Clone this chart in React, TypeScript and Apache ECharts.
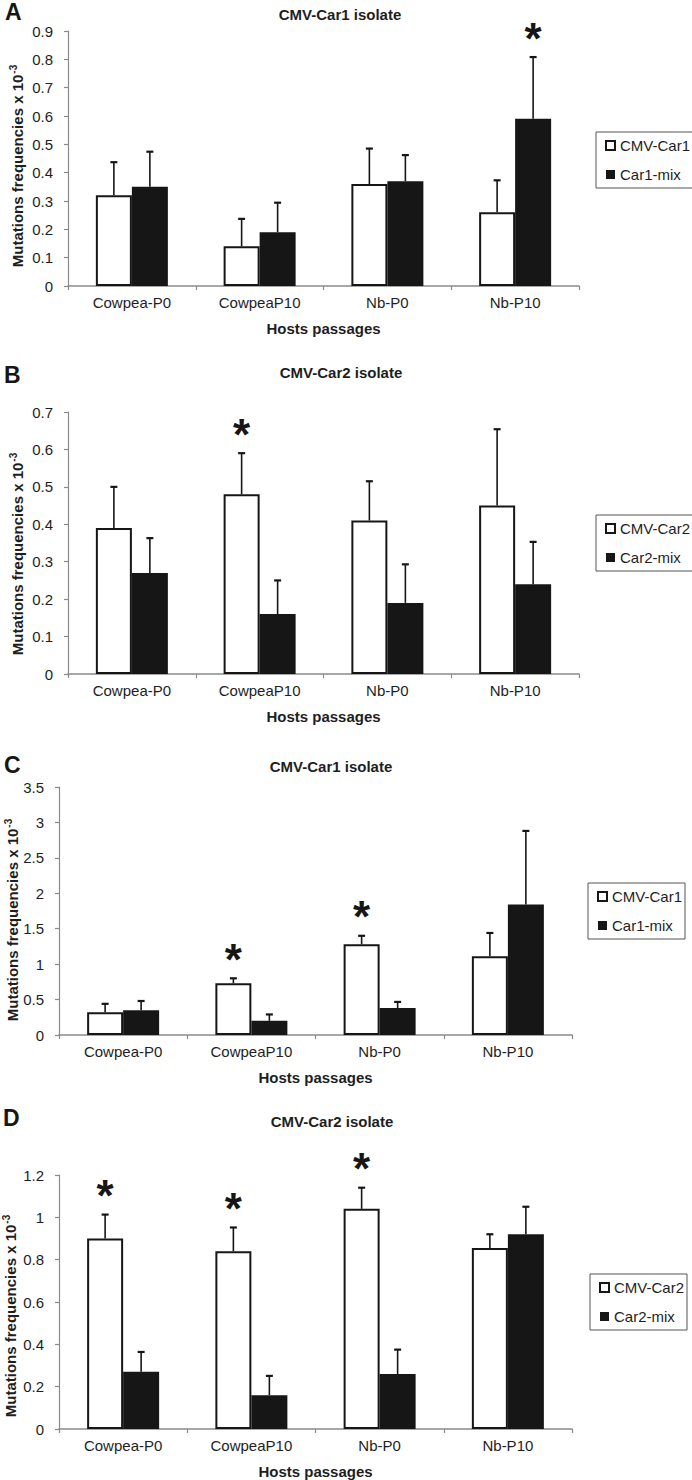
import React, { useEffect, useRef } from 'react';
import * as echarts from 'echarts';

// ---------- data ----------
const categories = ['Cowpea-P0', 'CowpeaP10', 'Nb-P0', 'Nb-P10'];

const panelLetters = ['A', 'B', 'C', 'D'];
const panelTitles = ['CMV-Car1 isolate', 'CMV-Car2 isolate', 'CMV-Car1 isolate', 'CMV-Car2 isolate'];
const legendNames = [
  ['CMV-Car1', 'Car1-mix'],
  ['CMV-Car2', 'Car2-mix'],
  ['CMV-Car1', 'Car1-mix'],
  ['CMV-Car2', 'Car2-mix'],
];
const xAxisTitle = 'Hosts passages';
const yAxisTitle = 'Mutations frequencies x 10';
const yAxisExponent = '-3';

const yMax = [0.9, 0.7, 3.5, 1.2];
const yStep = [0.1, 0.1, 0.5, 0.2];

// panel A
const isolateA = [0.32, 0.14, 0.36, 0.26];
const isolateAErr = [0.117, 0.097, 0.125, 0.113];
const mixA = [0.35, 0.19, 0.37, 0.59];
const mixAErr = [0.124, 0.104, 0.092, 0.218];
// panel B
const isolateB = [0.39, 0.48, 0.41, 0.45];
const isolateBErr = [0.11, 0.11, 0.105, 0.204];
const mixB = [0.27, 0.16, 0.19, 0.24];
const mixBErr = [0.093, 0.09, 0.103, 0.113];
// panel C
const isolateC = [0.32, 0.73, 1.28, 1.11];
const isolateCErr = [0.12, 0.07, 0.12, 0.33];
const mixC = [0.35, 0.2, 0.38, 1.84];
const mixCErr = [0.13, 0.09, 0.087, 1.04];
// panel D
const isolateD = [0.9, 0.84, 1.04, 0.855];
const isolateDErr = [0.113, 0.112, 0.1, 0.065];
const mixD = [0.27, 0.16, 0.26, 0.92];
const mixDErr = [0.094, 0.091, 0.115, 0.13];

// significance marks: [category index, series index (0 = isolate, 1 = mix)]
const signifA = [[3, 1]];
const signifB = [[1, 0]];
const signifC = [[1, 0], [2, 0]];
const signifD = [[0, 0], [1, 0], [2, 0]];

const isolates = [isolateA, isolateB, isolateC, isolateD];
const isolateErrs = [isolateAErr, isolateBErr, isolateCErr, isolateDErr];
const mixes = [mixA, mixB, mixC, mixD];
const mixErrs = [mixAErr, mixBErr, mixCErr, mixDErr];
const signifs = [signifA, signifB, signifC, signifD];

// ---------- layout ----------
const W = 692;
const H = 1480;
const BAR_W = 36;
const FONT = '"Liberation Sans", Arial, Helvetica, sans-serif';
const NARROW = '"Liberation Sans Narrow", "Arial Narrow", "Liberation Sans", Arial, sans-serif';
const TXT = '#1e1e1e';
const AXIS = '#8a8a8a';
const BLACK = '#161616';

const grids = [
  { left: 68, top: 31, width: 511, height: 255 },
  { left: 68, top: 412, width: 511, height: 262 },
  { left: 59, top: 787, width: 513, height: 248 },
  { left: 59, top: 1175, width: 513, height: 255 },
];
const titlePos = [[340, 14], [341, 372], [331, 766], [332, 1121]];
const letterPos = [[5, 0], [4, 363], [4, 753], [3, 1106]];
const legendPos = [[596, 132], [596, 515], [588, 883], [590, 1274]];
const yNamePos = [[17, 166], [17, 554], [12, 920], [10, 1316]];

function buildOption() {
  const series: any[] = [];
  const xAxis: any[] = [];
  const yAxis: any[] = [];
  const legend: any[] = [];
  const graphic: any[] = [];

  for (let p = 0; p < 4; p++) {
    xAxis.push({
      type: 'category',
      gridIndex: p,
      data: categories,
      axisLine: { lineStyle: { color: AXIS, width: 1.5 } },
      axisTick: { show: true, length: 4, lineStyle: { color: AXIS, width: 1.2 } },
      axisLabel: { color: TXT, fontSize: 15, fontFamily: FONT, margin: 9 },
      name: xAxisTitle,
      nameLocation: 'middle',
      nameGap: 35,
      nameTextStyle: { color: TXT, fontSize: 15, fontWeight: 'bold', fontFamily: FONT },
    });
    yAxis.push({
      type: 'value',
      gridIndex: p,
      min: 0,
      max: yMax[p],
      interval: yStep[p],
      splitLine: { show: false },
      axisLine: { show: true, lineStyle: { color: AXIS, width: 1.2 } },
      axisTick: { show: true, length: 4, lineStyle: { color: AXIS, width: 1.2 } },
      axisLabel: { color: TXT, fontSize: 15, fontFamily: NARROW, margin: 15 },
    });

    series.push({
      type: 'bar',
      name: legendNames[p][0],
      xAxisIndex: p,
      yAxisIndex: p,
      data: isolates[p],
      barWidth: BAR_W,
      barGap: '0%',
      itemStyle: { color: '#ffffff', borderColor: BLACK, borderWidth: 2 },
    });
    series.push({
      type: 'bar',
      name: legendNames[p][1],
      xAxisIndex: p,
      yAxisIndex: p,
      data: mixes[p],
      barWidth: BAR_W,
      barGap: '0%',
      itemStyle: { color: BLACK, borderColor: BLACK, borderWidth: 0 },
    });

    const errData: number[][] = [];
    for (let i = 0; i < categories.length; i++) {
      errData.push([i, isolates[p][i], isolateErrs[p][i], -1]);
      errData.push([i, mixes[p][i], mixErrs[p][i], 1]);
    }
    series.push({
      type: 'custom',
      xAxisIndex: p,
      yAxisIndex: p,
      data: errData,
      encode: { x: 0, y: 1 },
      z: 5,
      silent: true,
      renderItem: (params: any, api: any) => {
        const cat = api.value(0);
        const v = api.value(1);
        const e = api.value(2);
        const side = api.value(3);
        const base = api.coord([cat, v]);
        const top = api.coord([cat, v + e]);
        const x = base[0] + (side * BAR_W) / 2;
        return {
          type: 'group',
          children: [
            { type: 'line', shape: { x1: x, y1: base[1], x2: x, y2: top[1] }, style: { stroke: BLACK, lineWidth: 1.6 } },
            { type: 'line', shape: { x1: x - 3.5, y1: top[1], x2: x + 3.5, y2: top[1] }, style: { stroke: BLACK, lineWidth: 2.2 } },
          ],
        };
      },
    });

    const starData = signifs[p].map(([c, s]) => {
      const v = s === 0 ? isolates[p][c] + isolateErrs[p][c] : mixes[p][c] + mixErrs[p][c];
      return [c, v, s === 0 ? -1 : 1];
    });
    series.push({
      type: 'custom',
      xAxisIndex: p,
      yAxisIndex: p,
      data: starData,
      encode: { x: 0, y: 1 },
      z: 6,
      silent: true,
      renderItem: (params: any, api: any) => {
        const pt = api.coord([api.value(0), api.value(1)]);
        const x = pt[0] + (api.value(2) * BAR_W) / 2;
        return {
          type: 'text',
          x: x,
          y: pt[1] - 19,
          style: {
            text: '*',
            fontSize: 44,
            fontWeight: 'bold',
            fontFamily: FONT,
            fill: BLACK,
            textAlign: 'center',
            textVerticalAlign: 'middle',
          },
        };
      },
    });

    legend.push({
      data: legendNames[p],
      left: legendPos[p][0],
      top: legendPos[p][1],
      orient: 'vertical',
      icon: 'rect',
      itemWidth: 9,
      itemHeight: 9,
      itemGap: 14,
      itemTextGap: 2,
      padding: [6, 3, 6, 9],
      borderColor: '#555',
      borderWidth: 1,
      selectedMode: false,
      textStyle: { color: TXT, fontSize: 15, fontFamily: FONT },
    });

    graphic.push({
      type: 'text',
      left: letterPos[p][0],
      top: letterPos[p][1],
      style: { text: panelLetters[p], fontSize: 23, fontWeight: 'bold', fontFamily: FONT, fill: BLACK },
    });
    graphic.push({
      type: 'text',
      x: titlePos[p][0],
      y: titlePos[p][1],
      style: {
        text: panelTitles[p],
        fontSize: 15,
        fontWeight: 'bold',
        fontFamily: FONT,
        fill: TXT,
        textAlign: 'center',
        textVerticalAlign: 'middle',
      },
    });
    graphic.push({
      type: 'text',
      x: yNamePos[p][0],
      y: yNamePos[p][1],
      rotation: Math.PI / 2,
      style: {
        text: yAxisTitle + '{sup|' + yAxisExponent + '}',
        fontSize: 15,
        fontWeight: 'bold',
        fontFamily: FONT,
        fill: TXT,
        textAlign: 'center',
        textVerticalAlign: 'middle',
        rich: {
          sup: { fontSize: 10, fontWeight: 'bold', fontFamily: FONT, fill: TXT, verticalAlign: 'top', padding: [0, 0, 7, 1] },
        },
      },
    });
  }

  return {
    animation: false,
    backgroundColor: '#ffffff',
    grid: grids,
    xAxis,
    yAxis,
    legend,
    graphic,
    series,
  };
}

export default function App() {
  const ref = useRef<HTMLDivElement>(null);
  useEffect(() => {
    if (!ref.current) return;
    const chart = echarts.init(ref.current, undefined, { renderer: 'svg', width: W, height: H });
    chart.setOption(buildOption() as any);
    return () => {
      chart.dispose();
    };
  }, []);
  return <div ref={ref} style={{ position: 'absolute', left: 0, top: 0, width: W, height: H }} />;
}
